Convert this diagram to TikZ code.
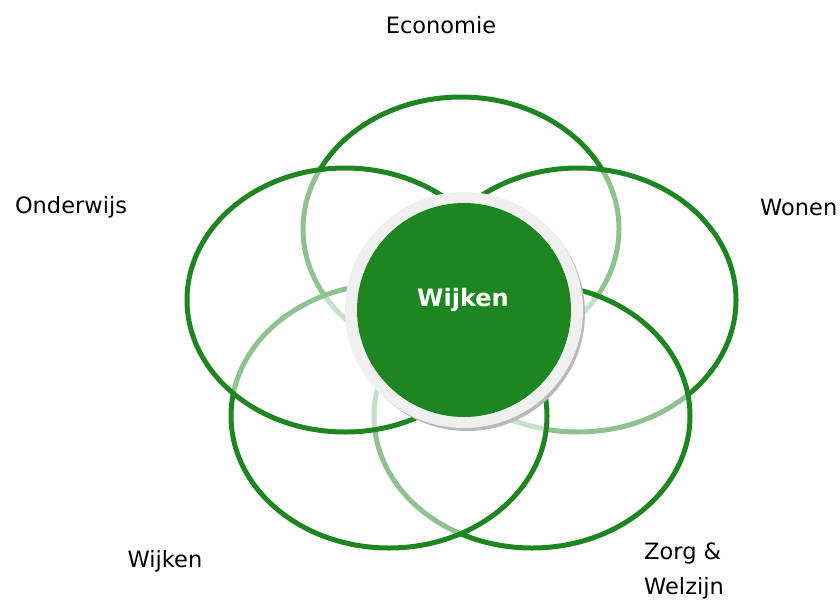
\documentclass[tikz,border=0pt]{standalone}
\usepackage{fontspec}
\setmainfont{DejaVu Sans}
\definecolor{leaf}{RGB}{30,134,32}
\definecolor{ring}{RGB}{240,240,240}
\begin{document}
\begin{tikzpicture}[x=1pt,y=-1pt,
  petal/.style={draw=leaf,line width=5pt,fill=white,fill opacity=0.5,draw opacity=1},
  lbl/.style={font=\fontsize{22.5}{27}\selectfont,text=black,inner sep=0pt}]
\useasboundingbox (0,0) rectangle (840,605);
% petals in drawing order
\path[petal] (461,229) ellipse [x radius=158,y radius=132];
\path[petal] (578,300) ellipse [x radius=158,y radius=132];
\path[petal] (532,416) ellipse [x radius=158,y radius=132];
\path[petal] (389,416) ellipse [x radius=158,y radius=132];
\path[petal] (345,300) ellipse [x radius=158,y radius=132];
% centre
\fill[gray!55] (467,313) ellipse [x radius=118,y radius=118];
\fill[ring] (464,310) ellipse [x radius=119,y radius=118];
\node[circle,fill=leaf,minimum size=214pt,inner sep=0pt] (c) at (464,310) {};
\node[text=white,font=\fontsize{24}{28}\selectfont\bfseries,inner sep=0pt] (cw) at (463,300) {Wijken};
% labels
\node[lbl] (eco) at (441,25) {Economie};
\node[lbl] (ond) at (71,207) {Onderwijs};
\node[lbl,anchor=west] (won) at (760,207) {Wonen};
\node[lbl] (wij) at (165,561) {Wijken};
\node[lbl,anchor=north west,align=left,font=\fontsize{22.5}{35}\selectfont] (zor) at (644,543) {Zorg \&\\Welzijn};
\end{tikzpicture}
\end{document}
